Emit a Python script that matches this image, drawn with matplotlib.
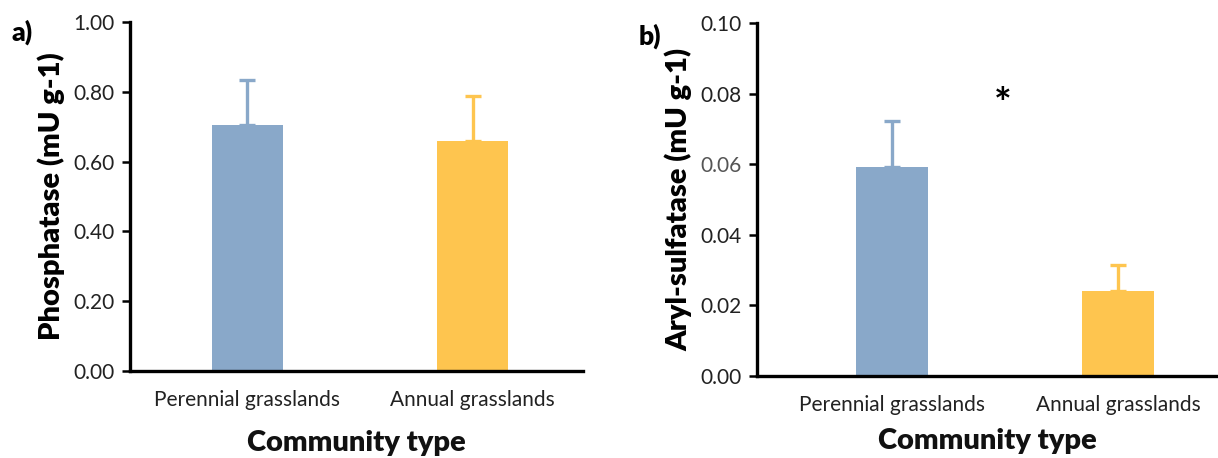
import matplotlib
matplotlib.use("Agg")
import matplotlib.pyplot as plt
from matplotlib.ticker import FormatStrFormatter

plt.rcParams.update({
    "font.family": ["Lato", "DejaVu Sans"],
    "font.size": 13,
})

categories = ["Perennial grasslands", "Annual grasslands"]
phosphatase = [0.705, 0.660]
phosphatase_err = [0.130, 0.127]
sulfatase = [0.0592, 0.0240]
sulfatase_err = [0.0130, 0.0075]
bar_colors = ["#89A8C9", "#FEC54F"]

fig = plt.figure(figsize=(12.18, 4.58), dpi=100)
ax_a = fig.add_axes([0.1067, 0.190, 0.372, 0.762])
ax_b = fig.add_axes([0.6215, 0.179, 0.3785, 0.771])


def draw_panel(ax, vals, errs, ylim, ylabel, xlim, xlabel_pad):
    x = list(range(len(categories)))
    ax.bar(x, vals, width=0.315, color=bar_colors, zorder=2)
    for xi, v, e, c in zip(x, vals, errs, bar_colors):
        ax.errorbar(xi, v, yerr=[[0], [e]], color=c, elinewidth=2.4,
                    capsize=6, capthick=2.4, zorder=1)
    ax.set_ylim(*ylim)
    ax.set_xlim(*xlim)
    ax.set_xticks(x)
    ax.set_xticklabels(categories, fontsize=15, color="#222222")
    ax.tick_params(axis="x", length=0, pad=14)
    ax.tick_params(axis="y", length=6, width=1.8, direction="out",
                   labelsize=15, labelcolor="#222222", pad=5)
    ax.yaxis.set_major_formatter(FormatStrFormatter("%.2f"))
    for s in ["top", "right"]:
        ax.spines[s].set_visible(False)
    for s in ["left", "bottom"]:
        ax.spines[s].set_linewidth(2.4)
        ax.spines[s].set_color("black")
    ax.set_ylabel(ylabel, fontsize=21, fontweight="heavy", labelpad=6)
    ax.set_xlabel("Community type", fontsize=21, fontweight="heavy",
                  labelpad=xlabel_pad, color="#111111")


draw_panel(ax_a, phosphatase, phosphatase_err, (0, 1.0),
           "Phosphatase (mU g-1)", (-0.52, 1.49), 14)
ax_a.set_yticks([0, 0.2, 0.4, 0.6, 0.8, 1.0])

draw_panel(ax_b, sulfatase, sulfatase_err, (0, 0.1),
           "Aryl-sulfatase (mU g-1)", (-0.597, 1.442), 9)
ax_b.set_yticks([0, 0.02, 0.04, 0.06, 0.08, 0.10])
ax_b.get_yticklabels()[3].set_color("#555555")
ax_b.text(0.49, 0.0765, "*", ha="center", va="center", fontsize=30,
          fontweight="bold")

fig.text(22 / 1218, 1 - 32 / 458, "a)", fontsize=19, fontweight="heavy",
         ha="center", va="center")
fig.text(650 / 1218, 1 - 36 / 458, "b)", fontsize=19, fontweight="heavy",
         ha="center", va="center")

fig.savefig("out.png", dpi=100)
